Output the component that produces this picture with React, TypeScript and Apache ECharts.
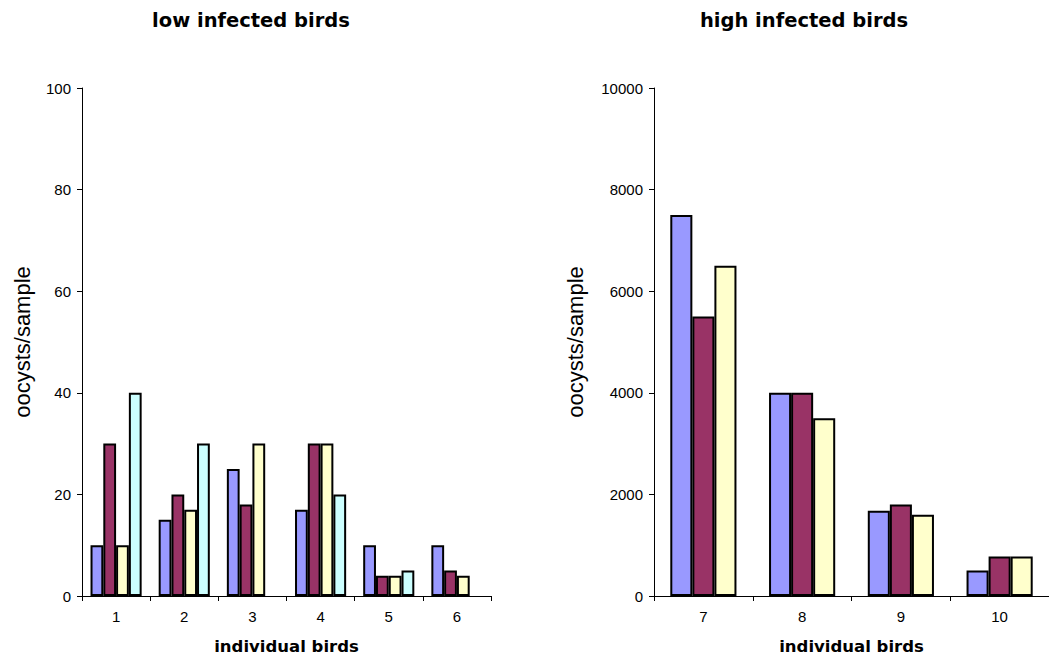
import React, { useEffect, useRef } from "react";
import * as echarts from "echarts";

const lowBirds = ["1", "2", "3", "4", "5", "6"];
const lowS1 = [10, 15, 25, 17, 10, 10];
const lowS2 = [30, 20, 18, 30, 4, 5];
const lowS3 = [10, 17, 30, 30, 4, 4];
const lowS4: (number | null)[] = [40, 30, null, 20, 5, null];

const highBirds = ["7", "8", "9", "10"];
const highS1 = [7500, 4000, 1680, 500];
const highS2 = [5500, 4000, 1800, 780];
const highS3 = [6500, 3500, 1600, 780];

const colors = ["#9999FF", "#993366", "#FFFFCC", "#CCFFFF"];

const FONT = "'Liberation Sans', Arial, sans-serif";
const BOLD_FONT = "'DejaVu Sans', sans-serif";

export default function App() {
  const ref = useRef<HTMLDivElement>(null);
  useEffect(() => {
    document.body.style.margin = "0";
    const chart = echarts.init(ref.current!, null, { renderer: "svg" });
    const yAxisCommon = (max: number, interval: number, gridIndex: number, gap: number) => ({
      type: "value" as const,
      gridIndex,
      min: 0,
      max,
      interval,
      name: "oocysts/sample",
      nameLocation: "middle" as const,
      nameGap: gap,
      nameMoveOverlap: false,
      nameTextStyle: { fontFamily: FONT, fontSize: 22, color: "#000" },
      axisLine: { show: true, lineStyle: { color: "#000", width: 1 } },
      axisTick: { show: true, length: 5, lineStyle: { color: "#000" } },
      axisLabel: {
        fontFamily: FONT,
        fontSize: 15,
        color: "#000",
        margin: 11,
        formatter: (v: number) => String(v),
      },
      splitLine: { show: false },
    });
    const xAxisCommon = (data: string[], gridIndex: number) => ({
      type: "category" as const,
      gridIndex,
      data,
      name: "individual birds",
      nameLocation: "middle" as const,
      nameGap: 42,
      nameTextStyle: { fontFamily: BOLD_FONT, fontSize: 16.5, fontWeight: "bold", color: "#000" },
      axisLine: { show: true, lineStyle: { color: "#000", width: 1 } },
      axisTick: { show: true, length: 5, lineStyle: { color: "#000" } },
      axisLabel: { fontFamily: FONT, fontSize: 15, color: "#000", margin: 13 },
      splitLine: { show: false },
    });
    const bar = (data: (number | null)[], i: number, axis: number, gap: string) => ({
      type: "bar" as const,
      xAxisIndex: axis,
      yAxisIndex: axis,
      data,
      barGap: "0%",
      barCategoryGap: gap,
      itemStyle: { color: colors[i], borderColor: "#000", borderWidth: 2 },
    });
    const titleStyle = { fontFamily: BOLD_FONT, fontSize: 19.5, fontWeight: "bold", color: "#000" };
    chart.setOption({
      animation: false,
      backgroundColor: "#fff",
      title: [
        { text: "low infected birds", left: 246, top: 5, textAlign: "center", textStyle: titleStyle },
        { text: "high infected birds", left: 799, top: 5, textAlign: "center", textStyle: titleStyle },
      ],
      grid: [
        { left: 82, top: 88, width: 409, height: 508 },
        { left: 654, top: 88, width: 400, height: 508 },
      ],
      xAxis: [xAxisCommon(lowBirds, 0), xAxisCommon(highBirds, 1)],
      yAxis: [yAxisCommon(100, 20, 0, 49), yAxisCommon(10000, 2000, 1, 68)],
      series: [
        bar(lowS1, 0, 0, "25%"),
        bar(lowS2, 1, 0, "25%"),
        bar(lowS3, 2, 0, "25%"),
        bar(lowS4, 3, 0, "25%"),
        bar(highS1, 0, 1, "33%"),
        bar(highS2, 1, 1, "33%"),
        bar(highS3, 2, 1, "33%"),
      ],
    });
    return () => chart.dispose();
  }, []);
  return (
    <div
      ref={ref}
      style={{ position: "absolute", left: 0, top: 0, width: 1049, height: 661 }}
    />
  );
}
